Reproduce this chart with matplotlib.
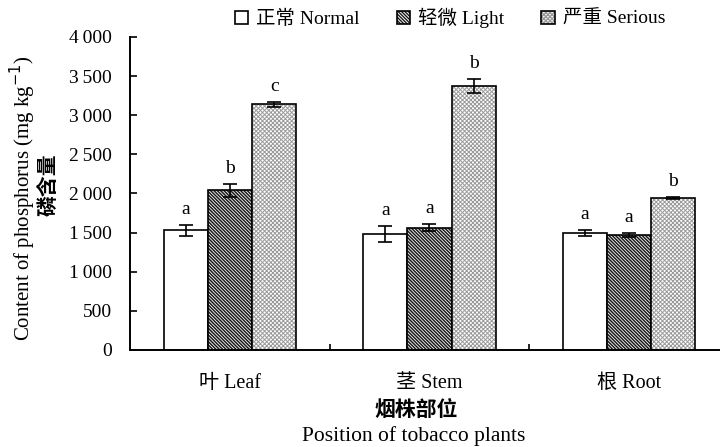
import numpy as np
import matplotlib.pyplot as plt
from matplotlib.colors import to_rgba
from matplotlib.ticker import FuncFormatter, FixedLocator

plt.rcParams['font.family'] = ['Liberation Serif', 'Noto Sans CJK SC']
plt.rcParams['hatch.linewidth'] = 1.0

# data
parts = ['叶 Leaf', '茎 Stem', '根 Root']
series = ['正常 Normal', '轻微 Light', '严重 Serious']
normal = [1530, 1480, 1495]
light = [2040, 1560, 1475]
serious = [3140, 3375, 1940]
normal_err = [70, 100, 40]
light_err = [85, 45, 25]
serious_err = [30, 85, 15]
letters = [['a', 'a', 'a'], ['b', 'a', 'a'], ['c', 'b', 'b']]

values = [normal, light, serious]
errors = [normal_err, light_err, serious_err]
hatches = ['', '\\' * 10, 'x' * 8]
hcolors = ['black', '#1a1a1a', '#9a9a9a']
hwidths = [1.0, 1.1, 0.7]

fig = plt.figure(figsize=(7.2, 4.47), dpi=100)
ax = fig.add_axes([130 / 720, 97 / 447, 590 / 720, 313 / 447])

x = np.arange(len(parts))
w = 0.222
for i in range(3):
    pos = x + (i - 1) * w
    bars = ax.bar(pos, values[i], w, color='white', edgecolor='black',
                  linewidth=1.2, hatch=hatches[i], label=series[i], zorder=2)
    for b in bars:
        b._hatch_color = to_rgba(hcolors[i])
        if hasattr(b, 'set_hatch_linewidth'):
            b.set_hatch_linewidth(hwidths[i])
    ax.errorbar(pos, values[i], yerr=errors[i], fmt='none', ecolor='black',
                elinewidth=1.2, capsize=5, capthick=1.2, zorder=3)
    for j in range(len(parts)):
        ax.text(pos[j], values[i][j] + errors[i][j] + 90, letters[i][j],
                ha='center', va='bottom', fontsize=14)

ax.set_xlim(-0.501, 2.456)
ax.set_ylim(0, 4000)
ax.set_yticks(np.arange(0, 4001, 500))
ax.yaxis.set_major_formatter(FuncFormatter(
    lambda v, p: f'{int(v):,}'.replace(',', '\u2009')))
ax.set_xticks(x)
ax.set_xticklabels(parts)
ax.xaxis.set_minor_locator(FixedLocator([0.5, 1.5]))
ax.tick_params(axis='y', direction='in', length=5, width=1.2, pad=13, labelsize=14)
ax.tick_params(axis='x', which='major', length=0, pad=17, labelsize=14.5)
ax.tick_params(axis='x', which='minor', direction='in', length=4, width=1.2)
for s in ['top', 'right']:
    ax.spines[s].set_visible(False)
for s in ['left', 'bottom']:
    ax.spines[s].set_linewidth(1.4)

fig.text(23 / 720, 1 - 198 / 447, 'Content of phosphorus (mg kg$^{-1}$)',
         rotation=90, ha='center', va='center', fontsize=15)
fig.text(49 / 720, 1 - 185 / 447, '磷含量', rotation=90, ha='center',
         va='center', fontsize=15, fontweight='bold')
fig.text(416 / 720, 1 - 411 / 447, '烟株部位', ha='center', va='center',
         fontsize=15, fontweight='bold')
fig.text(414 / 720, 1 - 436 / 447, 'Position of tobacco plants', ha='center',
         va='center', fontsize=15.5)

fig.legend(loc='center', bbox_to_anchor=(450 / 720, 1 - 18 / 447), ncol=3,
           frameon=False, fontsize=14, handlelength=0.7, handleheight=0.7,
           handletextpad=0.4, columnspacing=1.9)

fig.savefig('out.png', dpi=100)
